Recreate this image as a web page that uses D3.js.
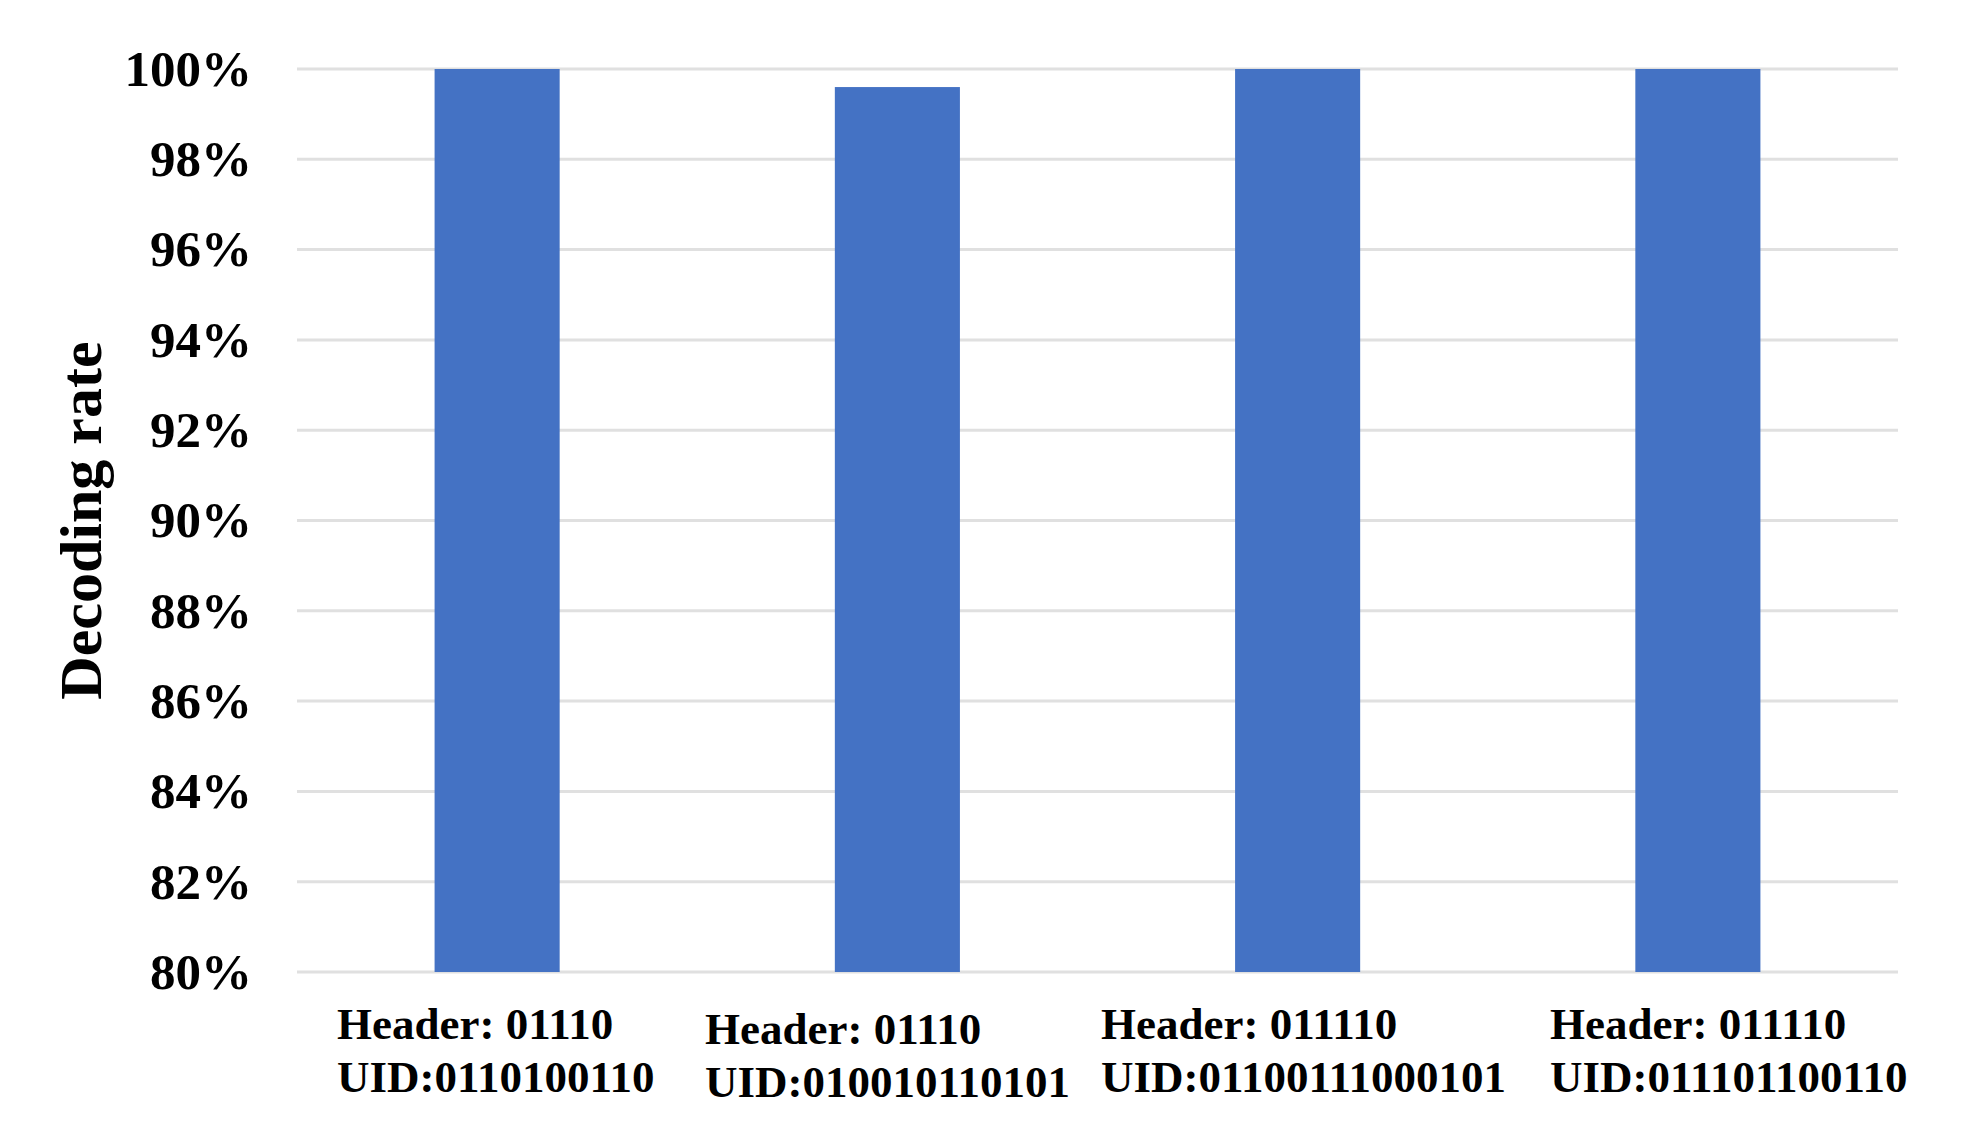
<!DOCTYPE html>
<html>
<head>
<meta charset="utf-8">
<script src="https://cdn.jsdelivr.net/npm/d3@7"></script>
<style>
    body { margin: 0; background: #fff; }
    svg text { font-family: "Liberation Serif", "Times New Roman", serif; font-weight: bold; fill: #000; }
</style>
</head>
<body>
<div class="output"></div>
<script>
// Данные
const headers = ["Header: 01110", "Header: 01110", "Header: 011110", "Header: 011110"];
const uids = ["UID:0110100110", "UID:010010110101", "UID:01100111000101", "UID:011101100110"];
const rates = [1.00, 0.996, 1.00, 1.00];
const yTicks = [0.80, 0.82, 0.84, 0.86, 0.88, 0.90, 0.92, 0.94, 0.96, 0.98, 1.00];

const W = 1971, H = 1139;
const margin = { left: 297, right: 1898, top: 69, bottom: 972 };

const svg = d3.select(".output")
    .append("svg")
    .attr("width", W)
    .attr("height", H);

const cats = d3.range(rates.length);

// Ось X
const x = d3.scaleBand()
    .domain(cats)
    .range([margin.left, margin.right])
    .paddingInner(0.6875)
    .paddingOuter(0.34375);

// Ось Y
const y = d3.scaleLinear()
    .domain([0.80, 1.00])
    .range([margin.bottom, margin.top]);

// Сетка
svg.append("g")
    .selectAll("line")
    .data(yTicks)
    .enter().append("line")
    .attr("x1", margin.left)
    .attr("x2", margin.right)
    .attr("y1", d => y(d))
    .attr("y2", d => y(d))
    .attr("stroke", "#e0e0e0")
    .attr("stroke-width", 3);

// Подписи оси Y
svg.append("g")
    .selectAll("text")
    .data(yTicks)
    .enter().append("text")
    .attr("x", 252)
    .attr("y", d => y(d))
    .attr("dy", "0.33em")
    .attr("text-anchor", "end")
    .style("font-size", "51px")
    .text(d => d3.format(".0%")(d));

// Столбцы
svg.append("g")
    .selectAll("rect")
    .data(rates)
    .enter().append("rect")
    .attr("x", (d, i) => x(i))
    .attr("y", d => y(d))
    .attr("width", x.bandwidth())
    .attr("height", d => y(0.80) - y(d))
    .attr("fill", "#4472C4");

// Подписи категорий
const labelLeft = [337, 705, 1101, 1550];
const labelDy = [0, 5, 0, 0];
const lbl = svg.append("g")
    .selectAll("text")
    .data(cats)
    .enter().append("text")
    .attr("x", i => labelLeft[i])
    .attr("y", i => 1039 + labelDy[i])
    .style("font-size", "45px");
lbl.append("tspan")
    .attr("x", i => labelLeft[i])
    .text(i => headers[i]);
lbl.append("tspan")
    .attr("x", i => labelLeft[i])
    .attr("dy", 53)
    .text(i => uids[i]);

// Название оси Y
svg.append("text")
    .attr("transform", "translate(101," + ((margin.top + margin.bottom) / 2) + ") rotate(-90)")
    .attr("text-anchor", "middle")
    .style("font-size", "60px")
    .text("Decoding rate");
</script>
</body>
</html>
